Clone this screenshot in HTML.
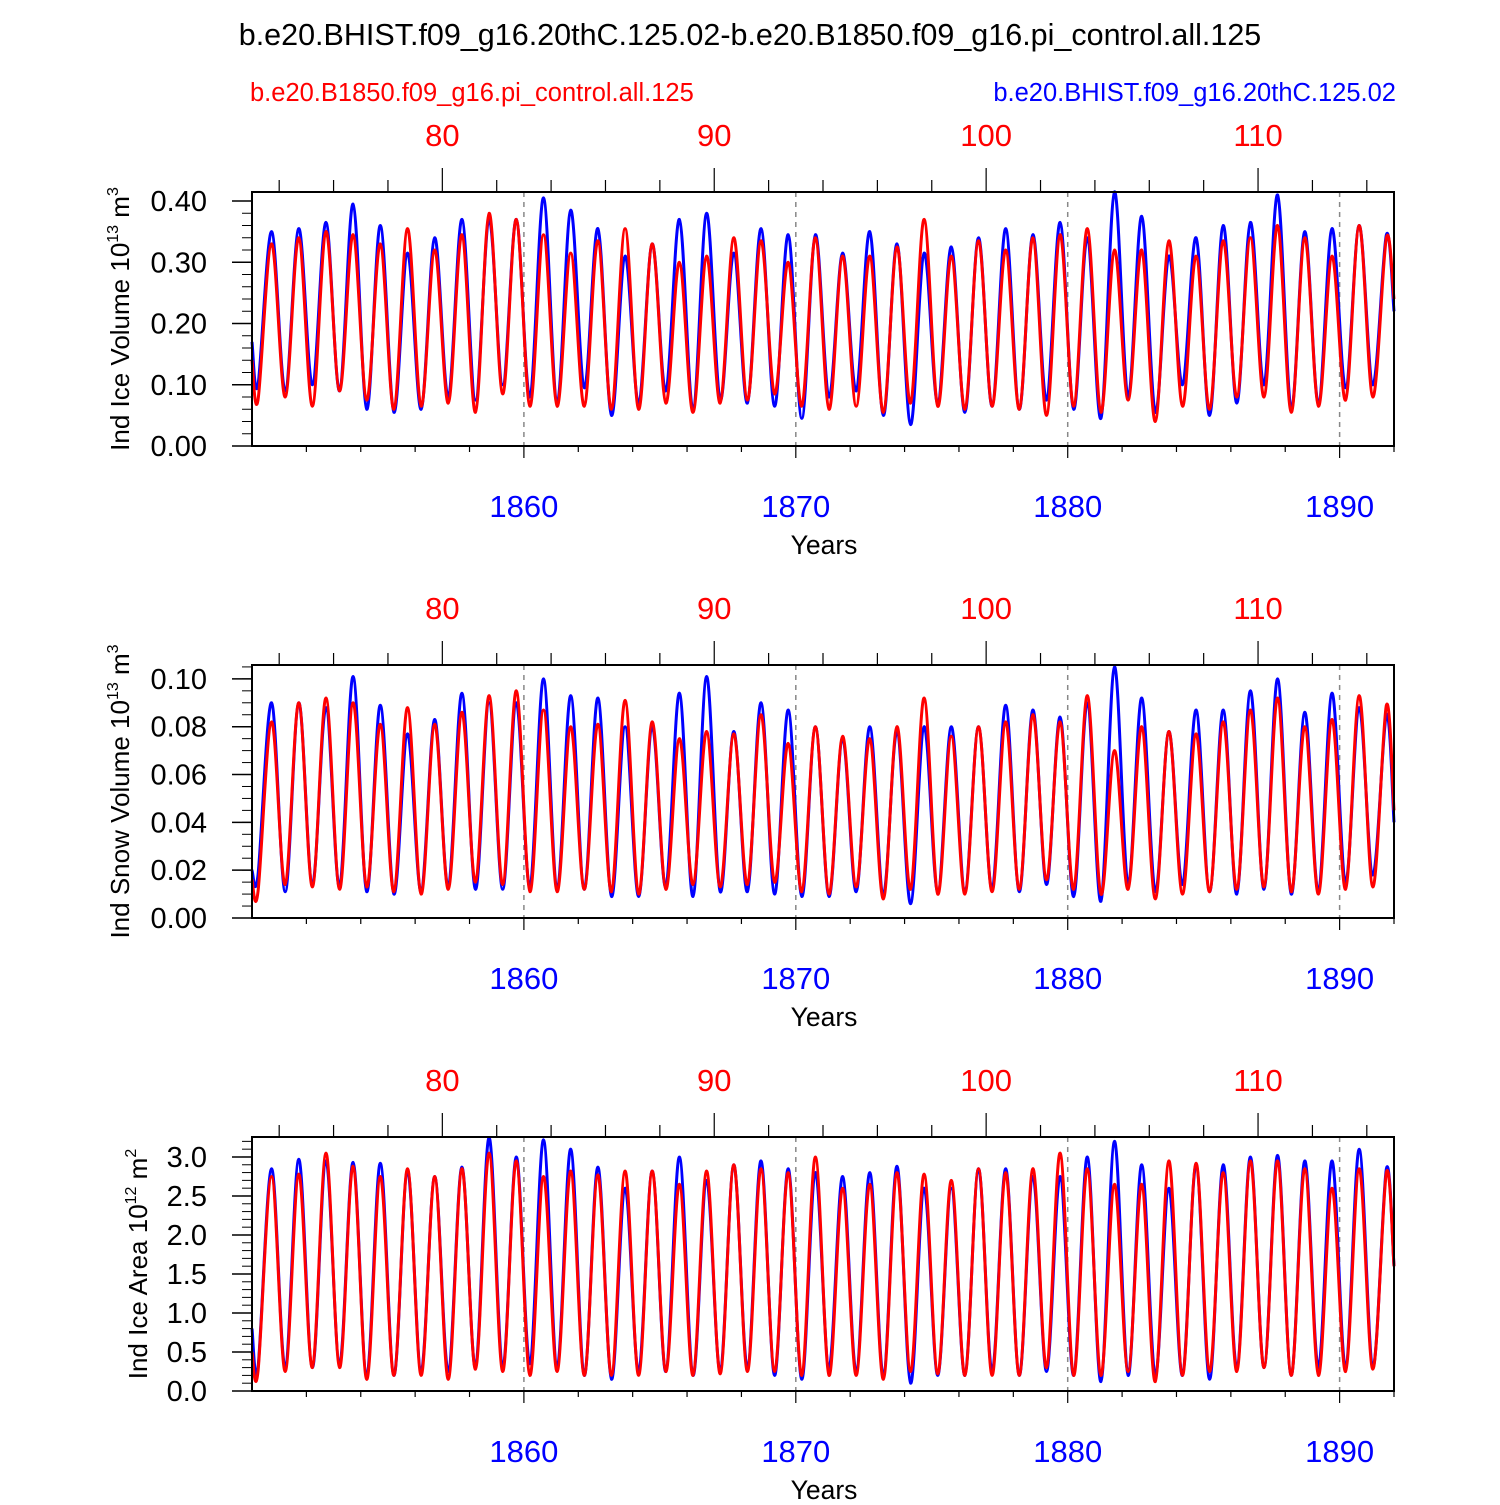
<!DOCTYPE html>
<html><head><meta charset="utf-8"><style>
body{margin:0;background:#fff;}
svg text{font-family:"Liberation Sans",sans-serif;}
</style></head><body>
<svg id="chart" width="1500" height="1500" xmlns="http://www.w3.org/2000/svg">
<text x="750" y="45" font-size="30.5" text-anchor="middle">b.e20.BHIST.f09_g16.20thC.125.02-b.e20.B1850.f09_g16.pi_control.all.125</text>
<text x="250" y="101" font-size="25.5" fill="#f00">b.e20.B1850.f09_g16.pi_control.all.125</text>
<text x="1396" y="101" font-size="25.5" fill="#00f" text-anchor="end">b.e20.BHIST.f09_g16.20thC.125.02</text>
<g id="panels"></g>
</svg>
<script>
const yearStart=1850, yearEnd=1892;
const bottomTicks=[1860,1870,1880,1890];
const topTicks=[80,90,100,110];
const topOffset=1777;
// Panel 1: ice volume
const volBluePeak=[0.35,0.355,0.365,0.395,0.36,0.315,0.34,0.37,0.37,0.37,0.405,0.385,0.355,0.31,0.33,0.37,0.38,0.315,0.355,0.345,0.345,0.315,0.35,0.33,0.315,0.325,0.34,0.355,0.345,0.365,0.34,0.415,0.375,0.31,0.34,0.36,0.365,0.41,0.35,0.355,0.36,0.345];
const volRedPeak=[0.33,0.34,0.35,0.345,0.33,0.355,0.32,0.345,0.38,0.37,0.345,0.315,0.335,0.355,0.33,0.30,0.31,0.34,0.335,0.30,0.34,0.31,0.31,0.325,0.37,0.31,0.335,0.32,0.34,0.345,0.355,0.32,0.32,0.335,0.31,0.335,0.34,0.36,0.34,0.31,0.36,0.34];
const volBlueTrough=[0.10,0.09,0.10,0.09,0.06,0.055,0.06,0.08,0.075,0.10,0.08,0.07,0.095,0.05,0.07,0.09,0.06,0.075,0.07,0.065,0.045,0.08,0.09,0.05,0.035,0.07,0.055,0.065,0.06,0.075,0.06,0.045,0.08,0.055,0.10,0.05,0.07,0.10,0.06,0.07,0.095,0.10];
const volRedTrough=[0.075,0.08,0.065,0.09,0.075,0.06,0.065,0.07,0.055,0.085,0.065,0.065,0.065,0.06,0.06,0.07,0.055,0.07,0.075,0.085,0.065,0.06,0.065,0.055,0.07,0.065,0.06,0.065,0.06,0.05,0.065,0.055,0.075,0.04,0.065,0.06,0.08,0.08,0.055,0.065,0.075,0.08];
const volEnds=[0.17,0.14,0.22,0.24];
// Panel 2: snow volume
const snowBluePeak=[0.09,0.09,0.088,0.101,0.089,0.077,0.083,0.094,0.09,0.09,0.10,0.093,0.092,0.08,0.08,0.094,0.101,0.078,0.09,0.087,0.08,0.075,0.08,0.078,0.08,0.08,0.08,0.089,0.087,0.084,0.09,0.105,0.092,0.078,0.087,0.087,0.095,0.10,0.086,0.094,0.088,0.085];
const snowRedPeak=[0.082,0.09,0.092,0.09,0.081,0.088,0.081,0.086,0.093,0.095,0.087,0.08,0.081,0.091,0.082,0.075,0.078,0.077,0.085,0.073,0.08,0.076,0.075,0.08,0.092,0.076,0.08,0.082,0.085,0.082,0.093,0.07,0.08,0.078,0.077,0.082,0.087,0.092,0.08,0.083,0.093,0.089];
const snowBlueTrough=[0.018,0.011,0.014,0.013,0.011,0.01,0.011,0.013,0.012,0.012,0.013,0.012,0.012,0.009,0.009,0.013,0.009,0.011,0.011,0.01,0.009,0.009,0.011,0.01,0.006,0.011,0.012,0.012,0.011,0.014,0.009,0.007,0.014,0.011,0.014,0.011,0.01,0.012,0.01,0.011,0.015,0.018];
const snowRedTrough=[0.011,0.014,0.013,0.012,0.013,0.011,0.01,0.012,0.015,0.014,0.011,0.011,0.012,0.011,0.01,0.012,0.014,0.013,0.014,0.015,0.011,0.01,0.013,0.008,0.012,0.01,0.01,0.011,0.012,0.016,0.012,0.01,0.012,0.008,0.01,0.011,0.012,0.013,0.011,0.01,0.012,0.013];
const snowEnds=[0.02,0.016,0.04,0.045];
// Panel 3: ice area
const areaBluePeak=[2.85,2.97,2.95,2.93,2.92,2.83,2.75,2.87,3.25,3.0,3.22,3.1,2.87,2.6,2.82,3.0,2.7,2.9,2.95,2.85,2.8,2.75,2.8,2.88,2.6,2.6,2.85,2.85,2.75,2.75,3.0,3.2,2.9,2.6,2.9,2.9,3.0,3.02,2.95,2.95,3.1,2.85];
const areaRedPeak=[2.75,2.78,3.05,2.88,2.75,2.85,2.75,2.85,3.05,2.95,2.75,2.82,2.77,2.82,2.82,2.65,2.82,2.9,2.85,2.8,3.0,2.6,2.65,2.8,2.78,2.7,2.85,2.8,2.85,3.05,2.85,2.65,2.65,2.95,2.92,2.8,2.95,2.95,2.85,2.6,2.85,2.8];
const areaBlueTrough=[0.3,0.3,0.3,0.35,0.2,0.2,0.25,0.25,0.3,0.3,0.35,0.3,0.2,0.15,0.25,0.25,0.2,0.25,0.3,0.2,0.15,0.3,0.25,0.2,0.1,0.2,0.2,0.25,0.2,0.25,0.2,0.12,0.2,0.2,0.2,0.15,0.3,0.3,0.2,0.3,0.3,0.3];
const areaRedTrough=[0.25,0.25,0.3,0.3,0.15,0.2,0.2,0.15,0.28,0.25,0.2,0.25,0.2,0.2,0.2,0.25,0.2,0.22,0.25,0.25,0.2,0.2,0.2,0.15,0.25,0.22,0.2,0.2,0.2,0.3,0.2,0.2,0.25,0.12,0.2,0.25,0.25,0.3,0.2,0.2,0.25,0.28];
const areaEnds=[0.8,0.5,1.6,1.6];

const panels=[
 {top:192,h:254,ymax:0.4147,major:[0,0.1,0.2,0.3,0.4],dec:2,minor:0.02,title:['Ind Ice Volume 10','13',' m','3'],tx:129,bp:volBluePeak,rp:volRedPeak,bt:volBlueTrough,rt:volRedTrough,ends:volEnds,name:'ice-volume'},
 {top:665,h:253,ymax:0.1058,major:[0,0.02,0.04,0.06,0.08,0.10],dec:2,minor:0.005,title:['Ind Snow Volume 10','13',' m','3'],tx:129,bp:snowBluePeak,rp:snowRedPeak,bt:snowBlueTrough,rt:snowRedTrough,ends:snowEnds,name:'snow-volume'},
 {top:1137,h:254,ymax:3.256,major:[0,0.5,1,1.5,2,2.5,3],dec:1,minor:0.1,title:['Ind Ice Area 10','12',' m','2'],tx:147,bp:areaBluePeak,rp:areaRedPeak,bt:areaBlueTrough,rt:areaRedTrough,ends:areaEnds,name:'ice-area'}
];
const L=252,R=1394;
const xs=y=>L+(y-yearStart)/(yearEnd-yearStart)*(R-L);
const NS='http://www.w3.org/2000/svg';
const root=document.getElementById('panels');
function el(tag,attrs,parent){const e=document.createElementNS(NS,tag);for(const k in attrs)e.setAttribute(k,attrs[k]);(parent||root).appendChild(e);return e;}
function spline(pts){let d='M'+pts[0][0].toFixed(1)+','+pts[0][1].toFixed(1);
 for(let i=0;i<pts.length-1;i++){const p0=pts[i-1]||pts[i],p1=pts[i],p2=pts[i+1],p3=pts[i+2]||p2;const t=0.17;
  d+=' C'+(p1[0]+(p2[0]-p0[0])*t).toFixed(1)+','+(p1[1]+(p2[1]-p0[1])*t).toFixed(1)+' '+(p2[0]-(p3[0]-p1[0])*t).toFixed(1)+','+(p2[1]-(p3[1]-p1[1])*t).toFixed(1)+' '+p2[0].toFixed(1)+','+p2[1].toFixed(1);}
 return d;}
panels.forEach((p)=>{
 const g=el('g',{});
 
 
 const B=p.top+p.h;
 const ys=v=>B-v/p.ymax*p.h;
 bottomTicks.forEach(t=>{const l=el('line',{x1:xs(t),x2:xs(t),y1:p.top,y2:B,stroke:'#888','stroke-width':1.5,'stroke-dasharray':'5,5'},g);
  
  });
 [['#00f',p.bp,p.bt,p.ends[0],p.ends[2],'hist-series'],['#f00',p.rp,p.rt,p.ends[1],p.ends[3],'control-series']].forEach(s=>{
  const pts=[[xs(yearStart),ys(s[3])]];
  for(let i=0;i<s[1].length;i++){pts.push([xs(yearStart+i+0.22),ys(s[2][i])]);pts.push([xs(yearStart+i+0.72),ys(s[1][i])]);}
  pts.push([xs(yearEnd),ys(s[4])]);
  const path=el('path',{d:spline(pts),fill:'none',stroke:s[0],'stroke-width':3,'stroke-linejoin':'round'},g);
  
  
 });
 const box=el('rect',{x:L,y:p.top,width:R-L,height:p.h,fill:'none',stroke:'#000','stroke-width':2},g);
 
 
 for(let v=0;v<=p.ymax+1e-9;v+=p.minor){el('line',{x1:L,x2:L-10,y1:ys(v),y2:ys(v),stroke:'#000','stroke-width':1},g);}
 p.major.forEach(v=>{el('line',{x1:L,x2:L-20,y1:ys(v),y2:ys(v),stroke:'#000','stroke-width':1.5},g);
  const t=el('text',{x:L-45,y:ys(v)+10,'font-size':29,'text-anchor':'end'},g);t.textContent=v.toFixed(p.dec);
  
  });
 for(let y=1852;y<=1892;y+=2){const maj=bottomTicks.includes(y);el('line',{x1:xs(y),x2:xs(y),y1:B,y2:B+(maj?12:6),stroke:'#000','stroke-width':1.2},g);}
 for(let y=1851;y<=1892;y+=2){const maj=topTicks.includes(y-topOffset);el('line',{x1:xs(y),x2:xs(y),y1:p.top,y2:p.top-(maj?24:12),stroke:'#000','stroke-width':1.2},g);}
 bottomTicks.forEach(t=>{const tx=el('text',{x:xs(t),y:B+71,'font-size':31,'text-anchor':'middle',fill:'#00f'},g);tx.textContent=t;
  
  });
 topTicks.forEach(t=>{const tx=el('text',{x:xs(t+topOffset),y:p.top-46,'font-size':31,'text-anchor':'middle',fill:'#f00'},g);tx.textContent=t;
  
  });
 const xt=el('text',{x:824,y:B+108,'font-size':26.5,'text-anchor':'middle'},g);xt.textContent='Years';
 
 
 const yt=el('text',{transform:'translate('+p.tx+','+(p.top+p.h/2)+') rotate(-90)','font-size':26,'text-anchor':'middle'},g);
 
 
 p.title.forEach((s,i)=>{const ts=el('tspan',{},yt);ts.textContent=s;if(i%2==1){ts.setAttribute('font-size','16');ts.setAttribute('dy','-11');}else if(i>0){ts.setAttribute('dy','11');}});
});
</script>
</body></html>
